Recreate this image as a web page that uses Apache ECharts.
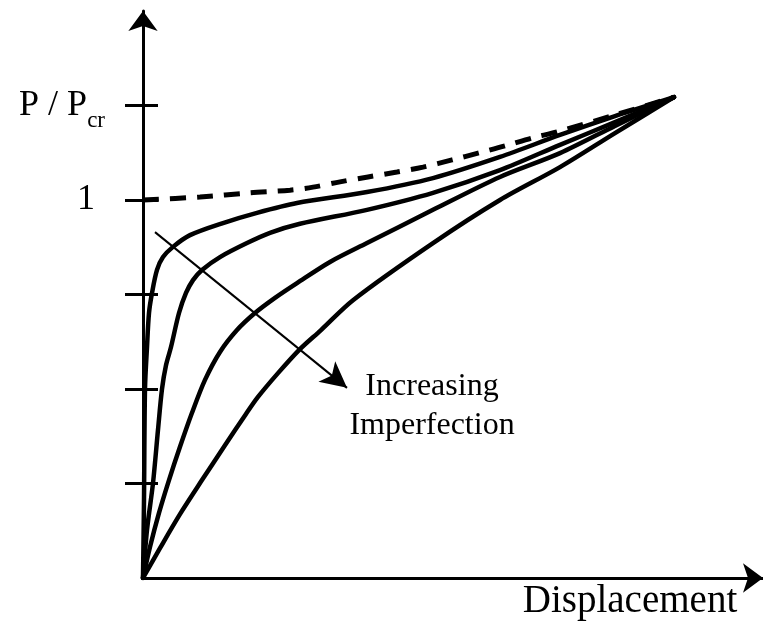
<!DOCTYPE html>
<html>
<head>
<meta charset="utf-8">
<script src="https://cdn.jsdelivr.net/npm/echarts@6/dist/echarts.min.js"></script>
<style>
  html, body { margin: 0; padding: 0; background: #fff; }
  #chart { width: 763px; height: 632px; }
</style>
</head>
<body>
<div id="chart"></div>
<script>
// ---- data (x: displacement units, y: P/Pcr scaled so that "1" = 1.0) ----
const perfectX = [0, 57, 107, 147, 170, 197, 225, 254, 280, 309, 335, 362, 389, 414, 472, 531];
const perfectY = [1.000, 1.008, 1.019, 1.026, 1.034, 1.048, 1.061, 1.074, 1.087, 1.106, 1.124, 1.143, 1.164, 1.180, 1.225, 1.272];

const imp1X = [0, 1, 2, 4, 6, 9, 14, 20, 30, 47, 80, 114, 154, 224, 290, 357, 417, 472, 531];
const imp1Y = [0, 0.206, 0.5, 0.611, 0.701, 0.754, 0.815, 0.849, 0.876, 0.907, 0.939, 0.966, 0.992, 1.021, 1.058, 1.114, 1.172, 1.222, 1.272];

const imp2X = [0, 4, 10, 15, 19, 23, 28, 36, 43, 50, 59, 77, 104, 127, 157, 224, 290, 357, 417, 472, 531];
const imp2Y = [0, 0.127, 0.251, 0.392, 0.5, 0.563, 0.611, 0.701, 0.754, 0.788, 0.815, 0.849, 0.886, 0.913, 0.937, 0.974, 1.019, 1.079, 1.146, 1.206, 1.272];

const imp3X = [0, 7, 16, 26, 37, 49, 62, 77, 94, 112, 132, 154, 187, 224, 290, 357, 417, 472, 531];
const imp3Y = [0, 0.082, 0.172, 0.259, 0.347, 0.437, 0.524, 0.598, 0.656, 0.701, 0.741, 0.780, 0.836, 0.886, 0.974, 1.061, 1.124, 1.196, 1.272];

const imp4X = [0, 17, 37, 59, 81, 103, 115, 135, 156, 178, 210, 290, 357, 417, 472, 531];
const imp4Y = [0, 0.079, 0.169, 0.259, 0.347, 0.434, 0.479, 0.542, 0.603, 0.656, 0.735, 0.886, 1.0, 1.087, 1.177, 1.272];

const yTickValues = [0.25, 0.5, 0.75, 1.0, 1.25];
const yLabelValues = [1.0, 1.25];
const yLabelTexts = { '1': '1', '1.25': 'P / P|cr' };

// annotation arrow (start / end in data coordinates)
const arrowStart = [12, 0.915];
const arrowEnd = [204, 0.503];
const annotationText = 'Increasing\nImperfection';
const xAxisTitle = 'Displacement';

const zip = (xs, ys) => xs.map((x, i) => [x, ys[i]]);
const FONT = '"Liberation Serif", "Times New Roman", serif';

const chart = echarts.init(document.getElementById('chart'), null, { renderer: 'canvas' });

const curveStyle = { color: '#000', width: 4.5, cap: 'round', join: 'round' };

const mkCurve = (name, xs, ys, extra) => Object.assign({
  type: 'line', name: name, data: zip(xs, ys),
  showSymbol: false, symbol: 'none', smooth: 0.3, silent: true,
  lineStyle: Object.assign({}, curveStyle),
  z: 3
}, extra || {});

const series = [
  mkCurve('perfect', perfectX, perfectY, { lineStyle: { color: '#000', width: 5, type: [16, 11] } }),
  mkCurve('imp1', imp1X, imp1Y, {
    markLine: {
      silent: true,
      symbol: ['none', 'arrow'],
      symbolSize: [20, 26],
      label: { show: false },
      lineStyle: { color: '#000', width: 2, type: 'solid' },
      data: [[{ coord: arrowStart }, { coord: arrowEnd }]]
    }
  }),
  mkCurve('imp2', imp2X, imp2Y),
  mkCurve('imp3', imp3X, imp3Y),
  mkCurve('imp4', imp4X, imp4Y)
];

const option = {
  animation: false,
  backgroundColor: '#fff',
  grid: { left: 143, right: 0, top: 11, bottom: 54, containLabel: false },
  xAxis: {
    type: 'value', min: 0, max: 620,
    axisLine: { show: true, lineStyle: { color: '#000', width: 3 }, symbol: ['none', 'arrow'], symbolSize: [22, 20] },
    axisTick: { show: false }, axisLabel: { show: false }, splitLine: { show: false }
  },
  yAxis: [
    {
      type: 'value', min: 0, max: 1.5, interval: 0.25, position: 'left',
      axisLine: { show: true, onZero: false, lineStyle: { color: '#000', width: 3 }, symbol: ['none', 'arrow'], symbolSize: [22, 20] },
      axisTick: { show: true, inside: false, length: 18, customValues: yTickValues, lineStyle: { color: '#000', width: 3 } },
      axisLabel: {
        show: true, margin: 38, customValues: yLabelValues, color: '#000',
        formatter: function (v) {
          const t = yLabelTexts[String(v)];
          if (!t) return '';
          if (t.indexOf('|') >= 0) {
            const parts = t.split('|');
            return '{a|' + parts[0] + '}{b|' + parts[1] + '}';
          }
          return '{one|' + t + '}';
        },
        rich: {
          a: { fontFamily: FONT, fontSize: 36, lineHeight: 36, color: '#000', verticalAlign: 'top' },
          b: { fontFamily: FONT, fontSize: 23, lineHeight: 23, color: '#000', verticalAlign: 'top', padding: [22, 0, 0, 0] },
          one: { fontFamily: FONT, fontSize: 36, lineHeight: 36, color: '#000', padding: [0, 10, 0, 0] }
        }
      },
      splitLine: { show: false }
    },
    {
      type: 'value', min: 0, max: 1.5, interval: 0.25, position: 'left', offset: 0,
      axisLine: { show: false },
      axisTick: { show: true, inside: true, length: 15, customValues: yTickValues, lineStyle: { color: '#000', width: 3 } },
      axisLabel: { show: false },
      splitLine: { show: false }
    }
  ],
  graphic: [
    {
      type: 'text', silent: true, z: 10,
      style: {
        text: annotationText, x: 432, y: 406, align: 'center', verticalAlign: 'middle',
        fontFamily: FONT, fontSize: 32, lineHeight: 39, fill: '#000'
      }
    },
    {
      type: 'text', silent: true, z: 10,
      style: {
        text: xAxisTitle, x: 630, y: 602, align: 'center', verticalAlign: 'middle',
        fontFamily: FONT, fontSize: 39, fill: '#000'
      }
    }
  ],
  series: series
};

chart.setOption(option);
</script>
</body>
</html>
